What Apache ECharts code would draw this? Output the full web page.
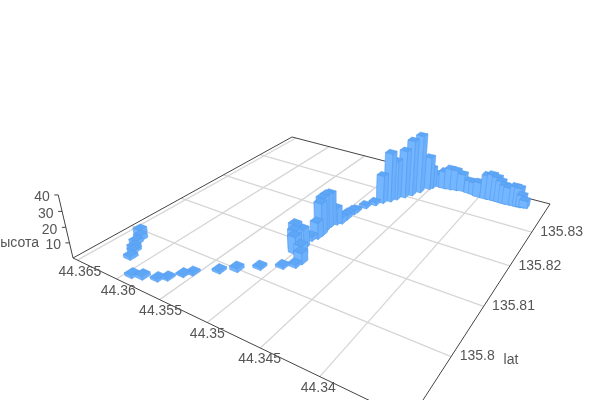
<!DOCTYPE html><html><body style="margin:0;background:#fff"><div id="m" style="width:600px;height:400px"></div>
<script src="https://cdn.jsdelivr.net/npm/echarts@6/dist/echarts.min.js"></script>
<script>
const lonValues=[44.36157,44.36212,44.36243,44.36299,44.36317,44.36401,44.35939,44.35849,44.35724,44.35665,44.35593,44.35542,44.35376,44.35266,44.35122,44.34970,44.34890,44.35050,44.35038,44.35010,44.34997,44.34939,
44.34877,44.35012,44.34985,44.34983,44.34997,44.35004,44.35000,44.34972,44.34942,44.34941,44.34951,44.34934,44.34929,44.34894,44.34844,44.34803,44.34754,44.34721,44.34671,44.34629,44.34587,44.34535,
44.34518,44.34520,44.34460,44.34401,44.34342,44.34281,44.34216,44.34130,44.34078,44.34027,44.33946,44.33895,44.33842,44.33800,44.33755,44.33715,44.33650,44.33610,44.33580,44.33550];
const latValues=[135.79445,135.79578,135.79621,135.79732,135.79838,135.79946,135.79175,135.79225,135.79299,135.79383,135.79545,135.79636,135.79855,135.80004,135.80202,135.80380,135.80488,135.80859,135.80810,135.80750,135.80911,135.80734,
135.80598,135.81143,135.81233,135.81331,135.81416,135.81541,135.81613,135.81710,135.81775,135.81916,135.82013,135.82103,135.82181,135.82366,135.82531,135.82659,135.82766,135.82878,135.83010,135.83134,135.83301,135.83490,
135.83551,135.83657,135.83652,135.83647,135.83663,135.83690,135.83717,135.83707,135.83698,135.83667,135.83667,135.83678,135.83679,135.83674,135.83669,135.83675,135.83684,135.83685,135.83705,135.83717];
const heightValues=[2.1,1.8,2.4,2.5,3.3,3.3,1.8,2.1,1.5,1.3,1.2,1.3,1.5,2.3,1.6,1.5,1.9,16.1,13.4,11.4,12.8,7.4,
7.3,2.8,11.0,21.9,23.4,23.1,22.5,11.3,4.3,2.9,2.4,2.7,1.7,2.0,2.2,19.7,34.5,27.8,33.7,39.5,41.2,23.5,
14.8,7.4,9.5,12.7,15.4,14.7,12.6,9.3,9.1,10.8,17.2,18.4,17.3,15.4,13.3,12.3,14.0,13.6,8.5,5.2];
const lonTicks=[44.34,44.345,44.35,44.355,44.36,44.365];
const latTicks=[135.8,135.81,135.82,135.83];
const heightTicks=[10,20,30,40];
const lonMin=44.3334,lonMax=44.3656,latMin=135.79,latMax=135.84,hMax=40;
const barLon=0.00042,barLat=0.00068;
// view: perspective floor mapping and vertical vanishing point (no 3D library is available)
const a=216,b=355.2,c=73,d=38,e=-57.1,f=258,g=-0.2952,h=0.4664,k=-0.0523,zx=k*340,zy=k*1400,zw=k;
function proj(u,v,t){const W=g*u+h*v+1+t*zw;return [(a*u+b*v+c+t*zx)/W,(d*u+e*v+f+t*zy)/W];}
const depth=r=>g*(lonMax-r[0])/(lonMax-lonMin)+h*(r[1]-latMin)/(latMax-latMin);
const bars=lonValues.map((x,i)=>[x,latValues[i],heightValues[i]]).sort((p,q)=>depth(q)-depth(p));
const TXT='#555',AX='#444',SPL='#d6d6d6',FONT='Liberation Sans';
function uv(api,lon,lat){const q=api.coord([lon,lat]);return [q[0]/600,1-q[1]/400];}
const lines=[];
lonTicks.forEach(x=>lines.push([x,latMin,x,latMax,SPL,1.3]));
latTicks.forEach(y=>lines.push([lonMin,y,lonMax,y,SPL,1.3]));
[[lonMax,latMin,lonMin,latMin],[lonMin,latMin,lonMin,latMax],[lonMax,latMin,lonMax,latMax],[lonMax,latMax,lonMin,latMax]].forEach(s=>lines.push(s.concat(AX,1)));
const labels=[];
lonTicks.forEach(x=>labels.push([x,latMin,String(x),'lon']));
latTicks.forEach(y=>labels.push([lonMin,y,String(y),'lat']));
const chart=echarts.init(document.getElementById('m'));
chart.setOption({animation:false,grid:{left:0,right:0,top:0,bottom:0,show:false},
xAxis:{type:'value',min:lonMin,max:lonMax,inverse:true,show:false},yAxis:{type:'value',min:latMin,max:latMax,show:false},
series:[
{type:'custom',silent:true,clip:false,z:1,data:lines,encode:{x:0,y:1},renderItem:(p,api)=>{
 const s=uv(api,api.value(0),api.value(1)),t=uv(api,api.value(2),api.value(3)),L=lines[p.dataIndex];
 const P=proj(s[0],s[1],0),Q=proj(t[0],t[1],0);
 return {type:'line',shape:{x1:P[0],y1:P[1],x2:Q[0],y2:Q[1]},style:{stroke:L[4],lineWidth:L[5]}};}},
{type:'custom',silent:true,clip:false,z:2,data:heightTicks.concat([0]).map(v=>[lonMax,latMin,v]),encode:{x:0,y:1},renderItem:(p,api)=>{
 const v=api.value(2),q=proj(0,0,v/hMax);
 if(v===0){const top=proj(0,0,1);return {type:'line',shape:{x1:q[0],y1:q[1],x2:top[0],y2:top[1]},style:{stroke:AX,lineWidth:1}};}
 return {type:'group',children:[{type:'line',shape:{x1:q[0]-4,y1:q[1],x2:q[0],y2:q[1]},style:{stroke:AX,lineWidth:1}},
 {type:'text',style:{text:String(v),x:q[0]-8.5,y:q[1]+2.5,fill:TXT,fontSize:14,fontFamily:FONT,align:'right',verticalAlign:'middle'}}]};}},
{type:'custom',silent:true,clip:false,z:3,data:labels.map(l=>[l[0],l[1]]),encode:{x:0,y:1},renderItem:(p,api)=>{
 const l=labels[p.dataIndex],s=uv(api,api.value(0),api.value(1)),q=proj(s[0],s[1],0),isLon=l[3]==='lon';
 return {type:'text',style:{text:l[2],x:isLon?q[0]-1.5+(l[0]-44.34)*160:q[0]+8.5,y:isLon?q[1]+11.5+(l[0]>44.355?1:0):q[1],fill:TXT,fontSize:14,fontFamily:FONT,align:isLon?'center':'left',verticalAlign:'middle'}};}},
{type:'custom',silent:true,clip:false,z:4,data:bars,encode:{x:0,y:1},renderItem:(p,api)=>{
 const lon=api.value(0),lat=api.value(1),t=api.value(2)/hMax;
 const c0=uv(api,lon+barLon,lat-barLat),c1=uv(api,lon-barLon,lat-barLat),c2=uv(api,lon-barLon,lat+barLat),c3=uv(api,lon+barLon,lat+barLat);
 const b0=proj(c0[0],c0[1],0),b1=proj(c1[0],c1[1],0),b2=proj(c2[0],c2[1],0);
 const t0=proj(c0[0],c0[1],t),t1=proj(c1[0],c1[1],t),t2=proj(c2[0],c2[1],t),t3=proj(c3[0],c3[1],t);
 const st='#549cf0',lw=0.6;
 return {type:'group',children:[
 {type:'polygon',shape:{points:[b0,b1,t1,t0]},style:{fill:'#74b6ff',stroke:st,lineWidth:lw}},
 {type:'polygon',shape:{points:[b1,b2,t2,t1]},style:{fill:'#6cb0fb',stroke:st,lineWidth:lw}},
 {type:'polygon',shape:{points:[t0,t1,t2,t3]},style:{fill:'#5ea6f6',stroke:st,lineWidth:lw}}]};}},
{type:'custom',silent:true,clip:false,z:5,data:[[lonMax,latMin]],encode:{x:0,y:1},renderItem:()=>({type:'group',children:[
 {type:'text',style:{text:'высота',x:39,y:243,fill:TXT,fontSize:14,fontFamily:FONT,align:'right',verticalAlign:'middle'}},
 {type:'text',style:{text:'lat',x:511,y:360,fill:TXT,fontSize:14,fontFamily:FONT,align:'center',verticalAlign:'middle'}}]})}
]});
</script></body></html>
